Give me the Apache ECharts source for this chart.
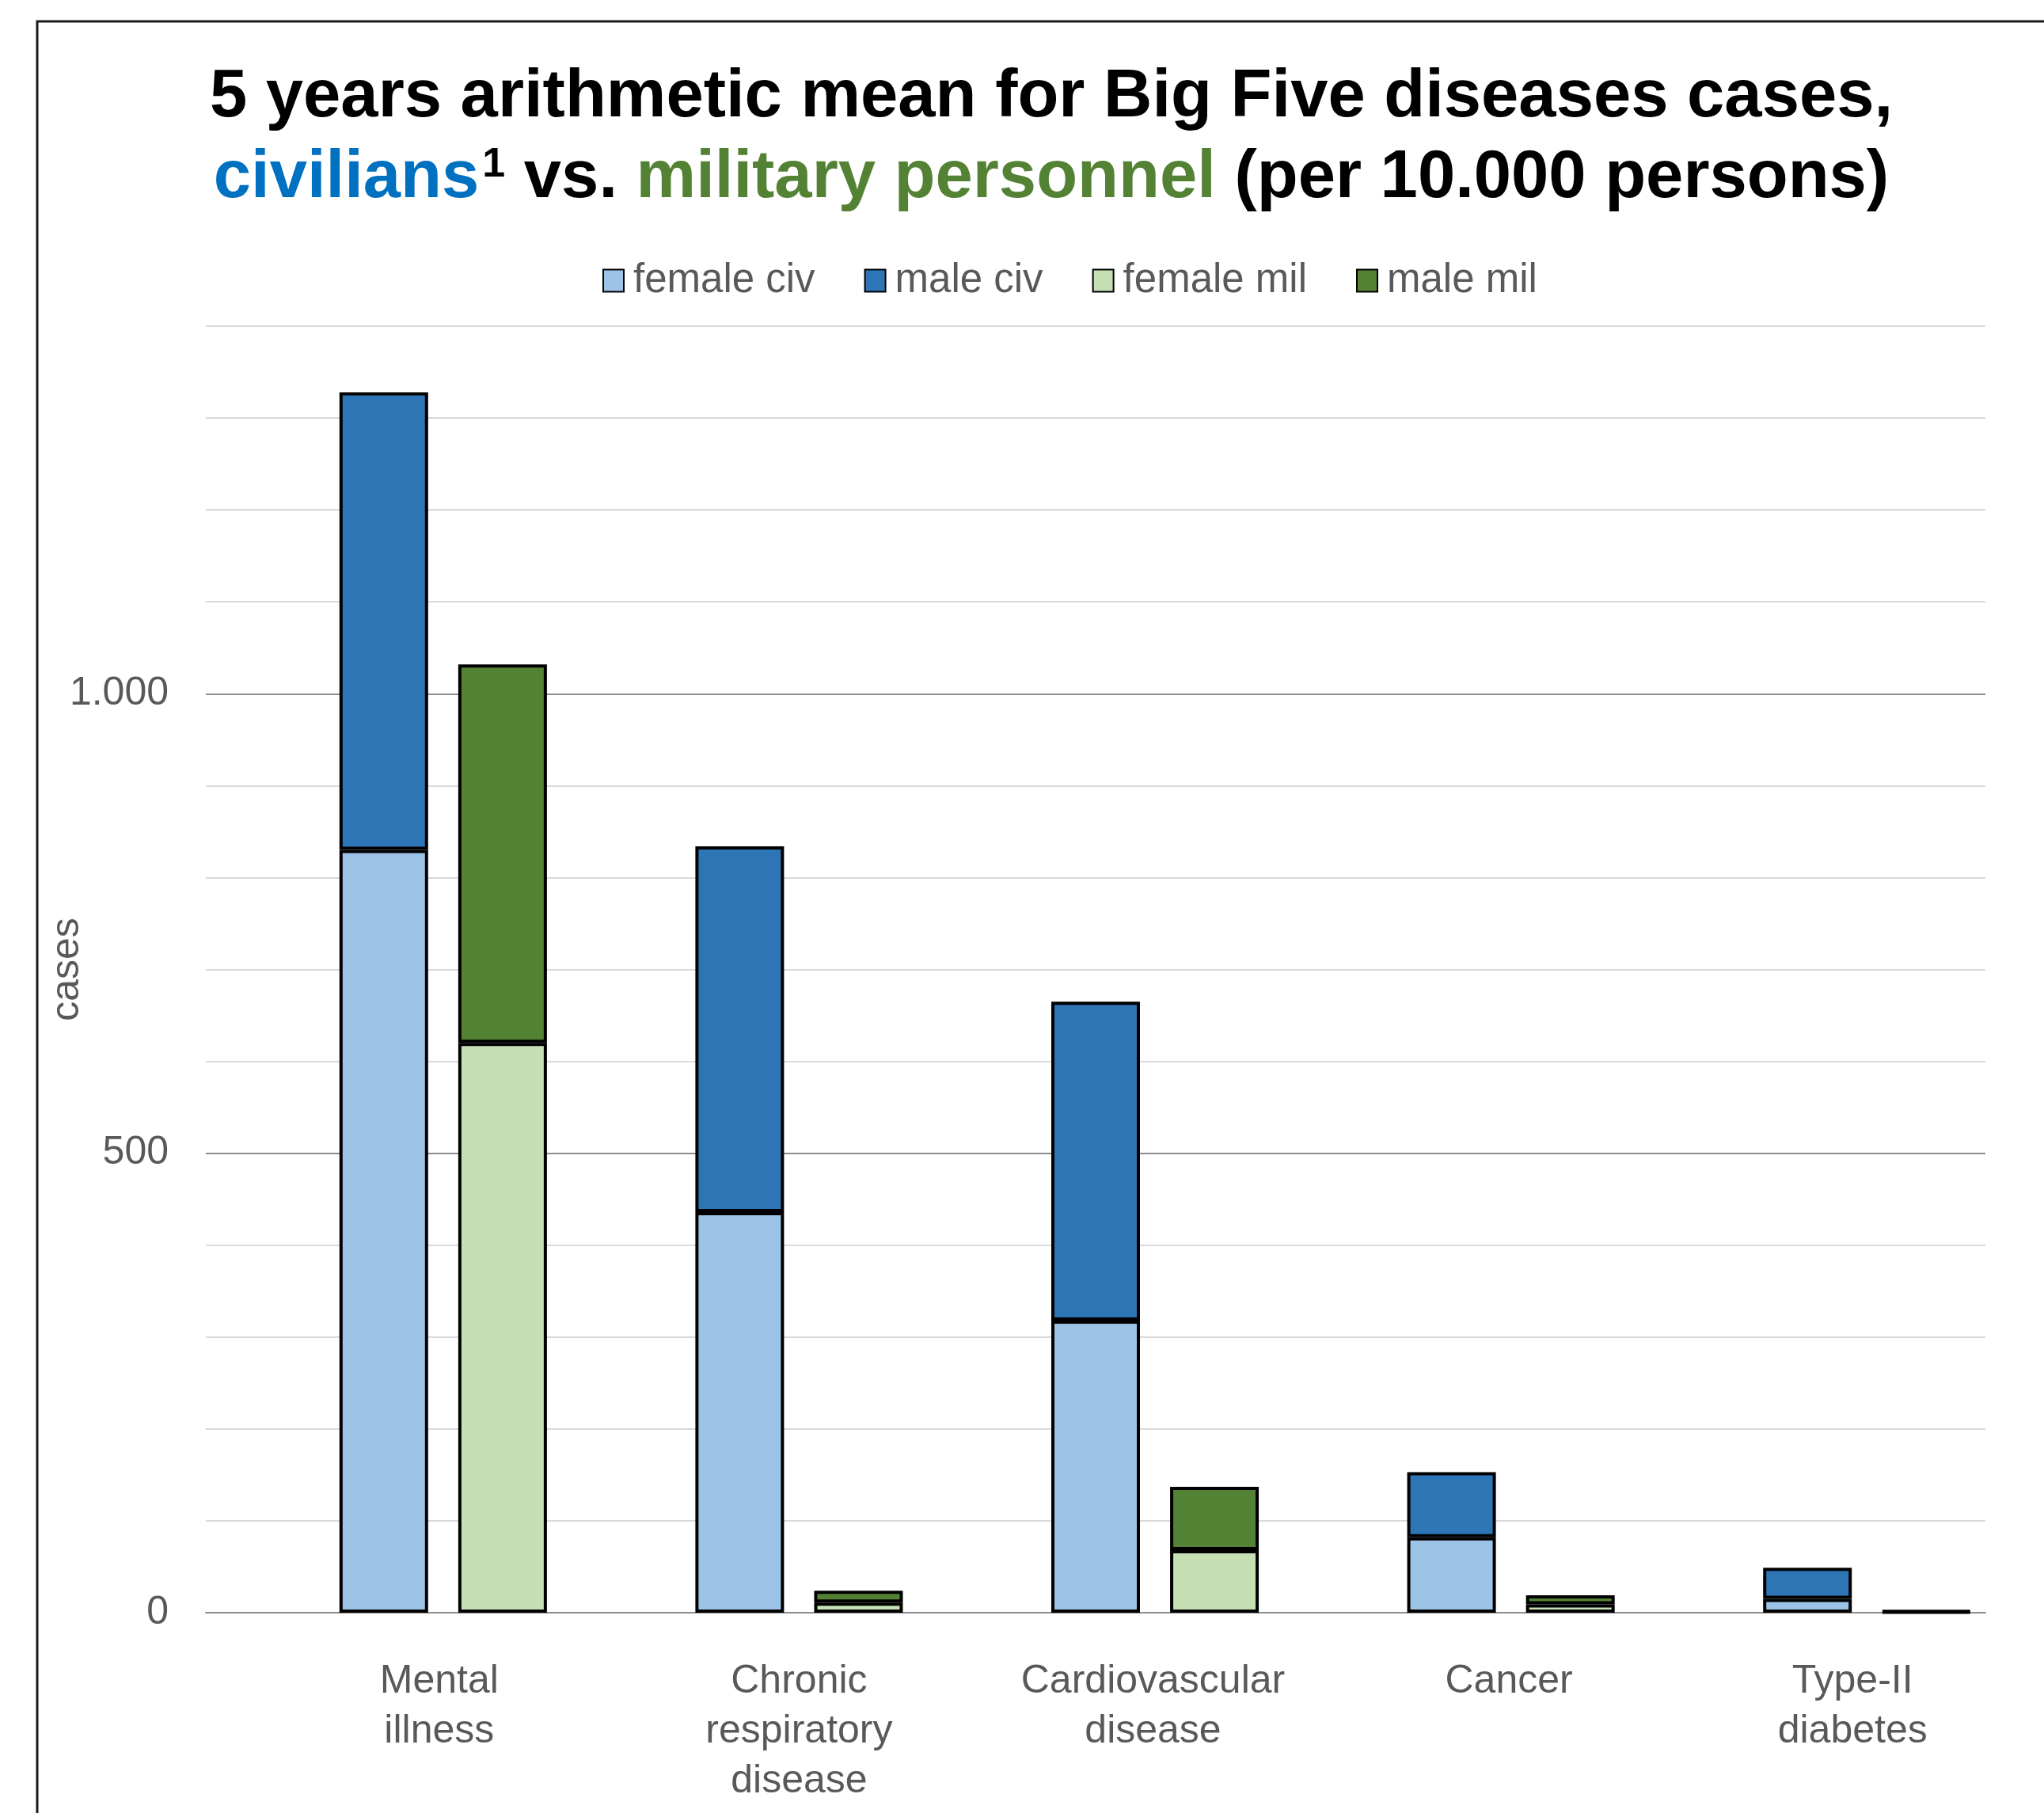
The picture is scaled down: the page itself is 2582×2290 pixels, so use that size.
<!DOCTYPE html>
<html>
<head>
<meta charset="utf-8">
<title>Big Five diseases</title>
<script src="https://cdn.jsdelivr.net/npm/echarts@6/dist/echarts.min.js"></script>
<style>
  html, body { margin: 0; padding: 0; background: #fff; }
  #chart { width: 2582px; height: 2290px; }
</style>
</head>
<body>
<div id="chart"></div>
<script>
// 5 year means per 10.000 persons
const categories = ['Mental\nillness', 'Chronic\nrespiratory\ndisease', 'Cardiovascular\ndisease', 'Cancer', 'Type-II\ndiabetes'];
const femaleCiv = [830, 436, 318, 82, 15];
const maleCiv = [498, 398, 347, 71, 34];
const femaleMil = [620, 11, 68, 9, 1];
const maleMil = [412, 13, 69, 10, 1];
const yTickLabels = { 0: '0', 500: '500', 1000: '1.000' };

const font = 'Liberation Sans, Arial, sans-serif';
const grey = '#595959';
// labels sit under the civ/mil pair, not the category middle
const labelShift = [140, 150, 145, 145, 114];

function barSeries(name, data, stack, color) {
  return {
    name: name,
    type: 'bar',
    stack: stack,
    data: data,
    barWidth: 112,
    barGap: '34%',
    itemStyle: { color: color, borderColor: '#000', borderWidth: 4 },
    emphasis: { disabled: true }
  };
}

const myChart = echarts.init(document.getElementById('chart'));

const option = {
  backgroundColor: '#fff',
  animation: false,
  textStyle: { fontFamily: font },
  title: {
    left: 1323,
    top: 68,
    textAlign: 'center',
    text: '{b|5 years arithmetic mean for Big Five diseases cases,}\n' +
      '{civ|civilians}{sup|1}{b| vs. }{mil|military personnel}{b| (per 10.000 persons)}',
    textStyle: {
      rich: {
        b: { fontSize: 85, fontWeight: 'bold', color: '#000', fontFamily: font, lineHeight: 102 },
        civ: { fontSize: 85, fontWeight: 'bold', color: '#0070C0', fontFamily: font, lineHeight: 102 },
        mil: { fontSize: 85, fontWeight: 'bold', color: '#548235', fontFamily: font, lineHeight: 102 },
        sup: { fontSize: 52, fontWeight: 'bold', color: '#000', fontFamily: font, lineHeight: 102, verticalAlign: 'top', padding: [8, 0, 0, 4] }
      }
    }
  },
  legend: {
    data: ['female civ', 'male civ', 'female mil', 'male mil'],
    left: 756,
    top: 324,
    itemWidth: 26,
    itemHeight: 28,
    itemGap: 62,
    icon: 'rect',
    textStyle: { fontSize: 51, color: grey, fontFamily: font, padding: [0, 0, 0, 7] }
  },
  grid: { left: 260, right: 74, top: 412, bottom: 253 },
  xAxis: {
    type: 'category',
    data: categories.map(function (c, i) {
      return { value: c, textStyle: { padding: [0, 0, 0, labelShift[i]] } };
    }),
    axisTick: { show: false },
    axisLine: { lineStyle: { color: '#8c8c8c', width: 2 } },
    axisLabel: {
      interval: 0,
      fontSize: 50,
      lineHeight: 63,
      color: grey,
      fontFamily: font,
      margin: 56
    }
  },
  yAxis: {
    type: 'value',
    min: 0,
    max: 1400,
    interval: 100,
    name: 'cases',
    nameLocation: 'middle',
    nameRotate: 90,
    nameGap: 150,
    nameMoveOverlap: false,
    nameTextStyle: { fontSize: 50, color: grey, fontFamily: font },
    axisLine: { show: false },
    axisTick: { show: false },
    axisLabel: {
      fontSize: 50,
      color: grey,
      fontFamily: font,
      margin: 47,
      formatter: function (v) { return yTickLabels[v] !== undefined ? yTickLabels[v] : ''; }
    },
    splitLine: {
      lineStyle: { color: ['#8c8c8c', '#d9d9d9', '#d9d9d9', '#d9d9d9', '#d9d9d9'], width: 2 }
    }
  },
  graphic: [
    {
      type: 'rect',
      silent: true,
      shape: { x: 47, y: 27, width: 2600, height: 2400 },
      style: { fill: 'none', stroke: '#1a1a1a', lineWidth: 3 }
    }
  ],
  series: [
    // empty slot on the left of each category, as in the original layout
    { name: 'pad', type: 'bar', stack: 'pad', data: [null, null, null, null, null], barWidth: 112, barGap: '34%', silent: true },
    barSeries('female civ', femaleCiv, 'civ', '#9DC3E6'),
    barSeries('male civ', maleCiv, 'civ', '#2E75B6'),
    barSeries('female mil', femaleMil, 'mil', '#C5E0B4'),
    barSeries('male mil', maleMil, 'mil', '#548235')
  ]
};

myChart.setOption(option, true);
</script>
</body>
</html>
